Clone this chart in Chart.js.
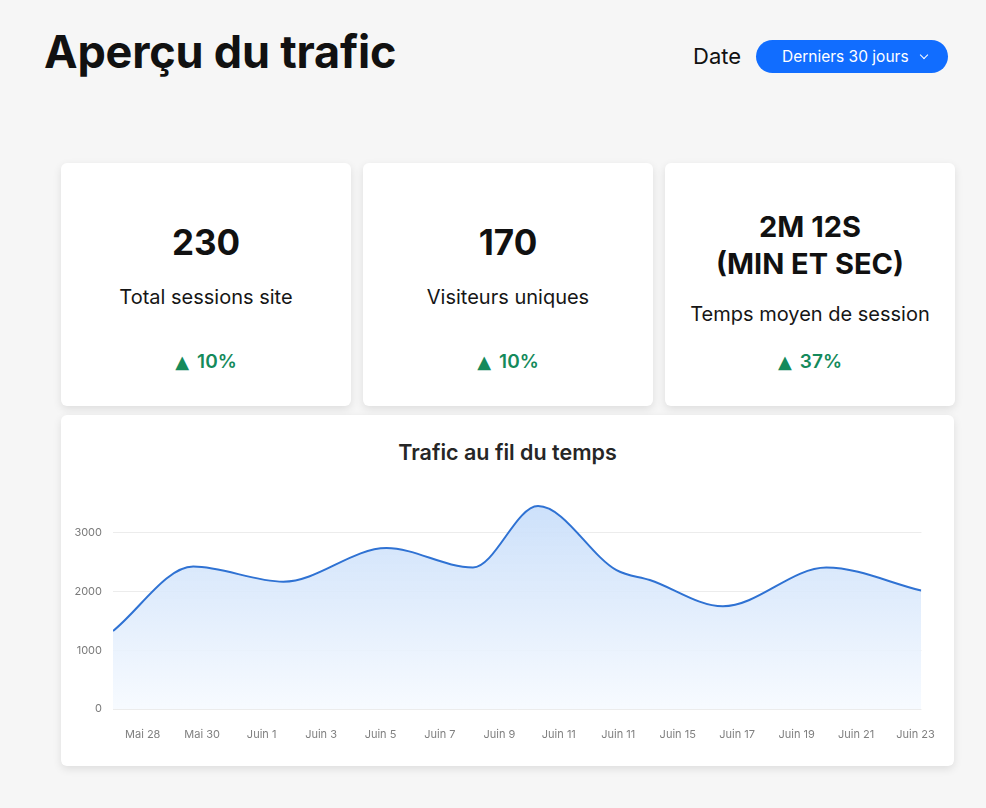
<!DOCTYPE html>
<html lang="fr">
<head>
<meta charset="utf-8">
<title>Aperçu du trafic</title>
<script src="https://cdn.jsdelivr.net/npm/chart.js@4.4.1/dist/chart.umd.min.js"></script>
<style>
  html, body { margin: 0; padding: 0; }
  body { width: 986px; height: 808px; background: #f6f6f6; position: relative; overflow: hidden;
         font-family: "Inter", "Noto Sans", sans-serif; color: #111; }
  .title { position: absolute; left: 44px; top: 22px; font-size: 45px; font-weight: 700; letter-spacing: -0.2px; line-height: 60px; white-space: nowrap; }
  .date { position: absolute; left: 693px; top: 41px; font-size: 22px; line-height: 30px; color: #111; }
  .btn { position: absolute; left: 756px; top: 40px; width: 192px; height: 33px; border-radius: 17px; background: #116dff;
         color: #fff; font-size: 15.5px; line-height: 33px; white-space: nowrap; }
  .btn .txt { position: absolute; left: 26px; top: 0; }
  .btn .chev { position: absolute; left: 165px; top: 12px; width: 5px; height: 5px; border-right: 1.3px solid #fff; border-bottom: 1.3px solid #fff; transform: rotate(45deg); }
  .card { position: absolute; background: #fff; border-radius: 6px; box-shadow: 0 3px 9px rgba(0,0,0,0.10); }
  .kpi { top: 163px; width: 290px; height: 243px; text-align: center; }
  .num { position: absolute; left: 0; right: 0; font-weight: 700; font-size: 35px; line-height: 40px; }
  .lbl { position: absolute; left: 0; right: 0; font-size: 20px; line-height: 26px; color: #161616; }
  .pct { position: absolute; left: 0; right: 0; font-size: 19px; line-height: 26px; color: #148a5b; font-weight: 600; }
  .pct .tri { font-family: "DejaVu Sans", sans-serif; font-size: 18px; margin-right: 8px; }
  .chartcard { left: 61px; top: 415px; width: 893px; height: 351px; }
  .ctitle { position: absolute; top: 437px; text-align: center; font-size: 21.5px; font-weight: 600; color: #262626; line-height: 30px; }
  .chartbox { position: absolute; left: 61px; top: 480px; width: 893px; height: 286px; }
</style>
</head>
<body>
<div class="title">Aperçu du trafic</div>
<div class="date">Date</div>
<div class="btn"><span class="txt">Derniers 30 jours</span><span class="chev"></span></div>

<div class="card kpi" style="left:61px">
  <div class="num" style="top:59px">230</div>
  <div class="lbl" style="top:121px">Total sessions site</div>
  <div class="pct" style="top:186px"><span class="tri">▲</span>10%</div>
</div>
<div class="card kpi" style="left:363px">
  <div class="num" style="top:59px">170</div>
  <div class="lbl" style="top:121px">Visiteurs uniques</div>
  <div class="pct" style="top:186px"><span class="tri">▲</span>10%</div>
</div>
<div class="card kpi" style="left:665px">
  <div class="num" style="top:45px;font-size:29px;line-height:37px">2M 12S<br>(MIN ET SEC)</div>
  <div class="lbl" style="top:138px">Temps moyen de session</div>
  <div class="pct" style="top:186px"><span class="tri">▲</span>37%</div>
</div>

<div class="card chartcard"></div>
<div class="ctitle" style="left:61px;width:893px">Trafic au fil du temps</div>
<div class="chartbox"><canvas id="c"></canvas></div>

<script>
// ---- data (x in days, 0 = Mai 28) ----
const xLabels = ['Mai 28','Mai 30','Juin 1','Juin 3','Juin 5','Juin 7','Juin 9','Juin 11','Juin 11','Juin 15','Juin 17','Juin 19','Juin 21','Juin 23'];
const tickDays = [0, 2, 4, 6, 8, 10, 12, 14, 16, 18, 20, 22, 24, 26];
const pointDays = [-1, 1.7, 4.73, 8.2, 11.11, 13.3, 15.94, 17.06, 19.52, 23.0, 26.19];
const traffic   = [1328, 2425, 2168, 2740, 2410, 3457, 2364, 2196, 1748, 2409, 2017];
const yTicks = [0, 1000, 2000, 3000];

const points = pointDays.map((d, i) => ({ x: d, y: traffic[i] }));

new Chart(document.getElementById('c'), {
  type: 'line',
  data: {
    datasets: [{
      data: points,
      borderColor: '#2f72d3',
      borderWidth: 2,
      pointRadius: 0,
      cubicInterpolationMode: 'monotone',
      fill: 'origin',
      backgroundColor: (ctx) => {
        const chart = ctx.chart;
        const area = chart.chartArea;
        if (!area) return 'rgba(205,224,250,0.7)';
        const g = chart.ctx.createLinearGradient(0, area.top, 0, area.bottom);
        g.addColorStop(0, 'rgba(200,222,250,0.95)');
        g.addColorStop(0.5, 'rgba(222,235,252,0.9)');
        g.addColorStop(1, 'rgba(246,250,255,0.9)');
        return g;
      }
    }]
  },
  options: {
    responsive: true,
    maintainAspectRatio: false,
    animation: false,
    layout: { padding: { top: 15, right: 31, left: 0, bottom: 0 } },
    plugins: { legend: { display: false }, tooltip: { enabled: false }, title: { display: false } },
    scales: {
      x: {
        type: 'linear',
        min: -1,
        max: 26.2,
        grid: { display: false, drawTicks: false },
        border: { display: false },
        afterBuildTicks: (s) => { s.ticks = tickDays.map(v => ({ value: v })); },
        afterFit: (s) => { s.height = 57; },
        ticks: {
          autoSkip: false, maxRotation: 0, padding: 19,
          color: '#808080',
          font: { family: 'Inter, sans-serif', size: 11 },
          callback: (v, i) => xLabels[i]
        }
      },
      y: {
        min: 0,
        max: 3600,
        grid: { color: '#ececec', lineWidth: 1, drawTicks: false },
        border: { display: false },
        afterBuildTicks: (s) => { s.ticks = yTicks.map(v => ({ value: v })); },
        afterFit: (s) => { s.width = 52; },
        ticks: {
          padding: 11,
          color: '#7a7a7a',
          font: { family: 'Inter, sans-serif', size: 11 },
          callback: (v) => String(v)
        }
      }
    }
  }
});
</script>
</body>
</html>
